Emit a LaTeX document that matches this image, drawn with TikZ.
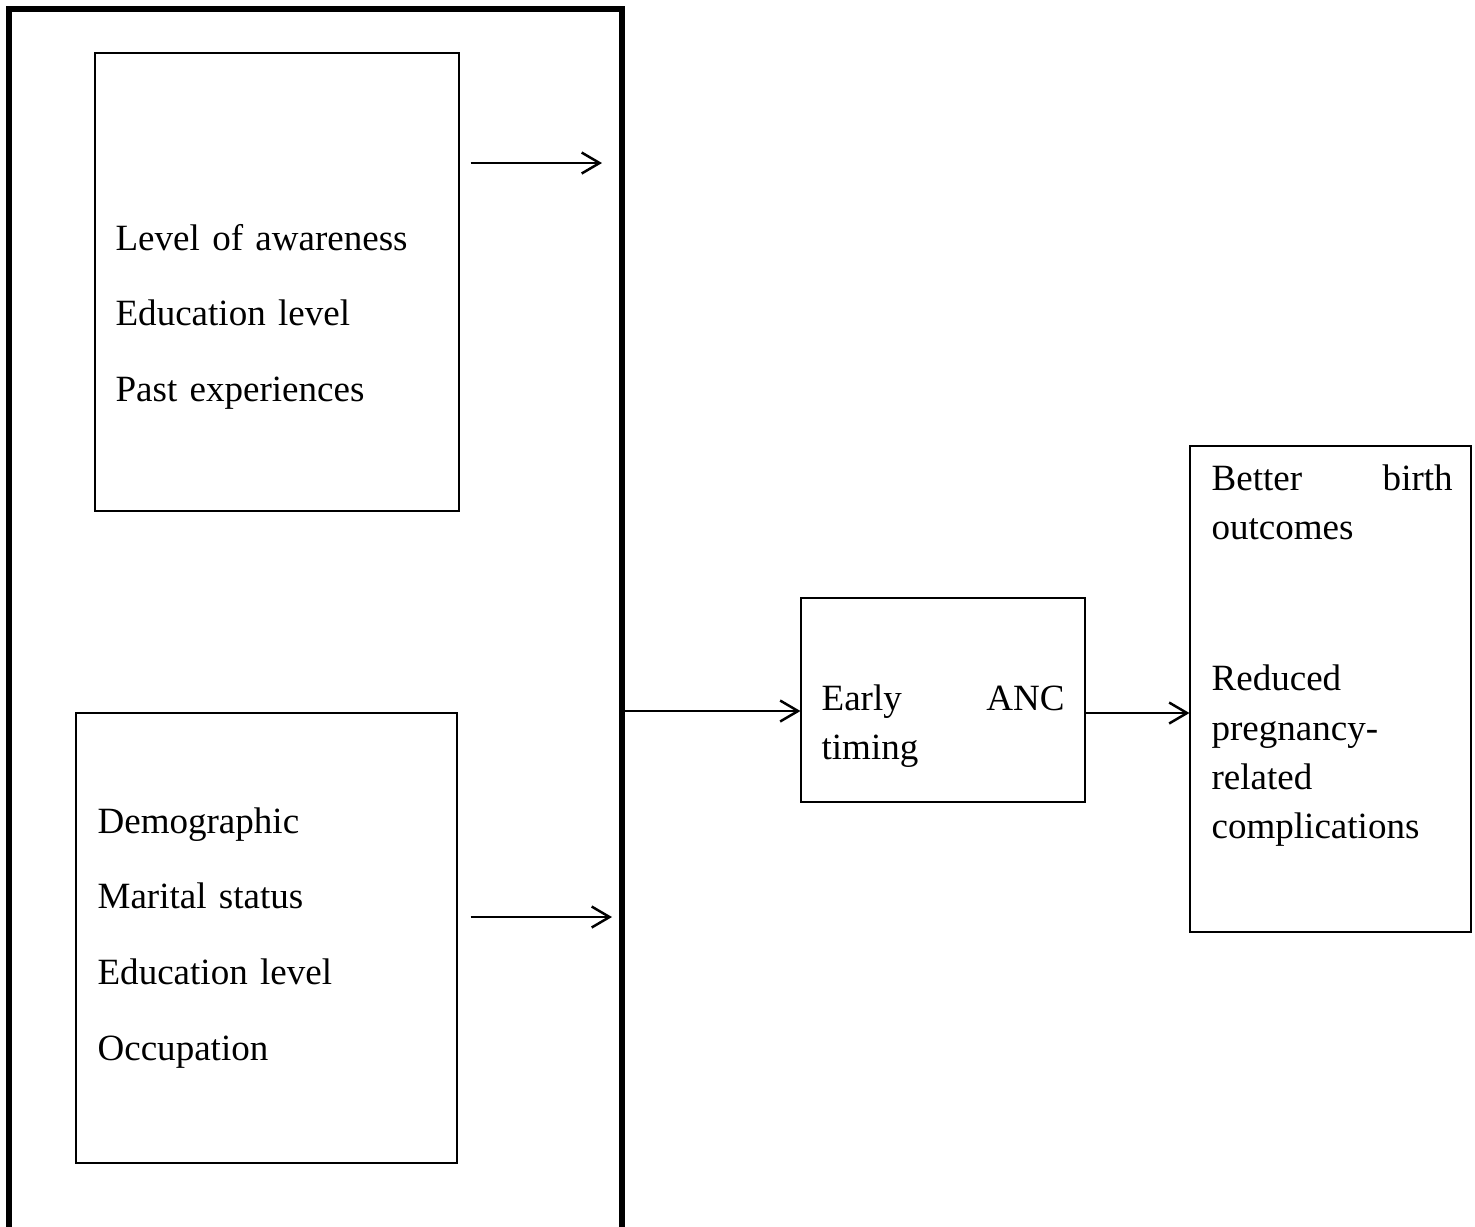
\documentclass[tikz,border=0pt]{standalone}
\usepackage{fontspec}
\setmainfont{Liberation Serif}
\usetikzlibrary{fit,arrows.meta}

\begin{document}
\begin{tikzpicture}[x=0.324pt,y=-0.324pt,
  box/.style={draw,line width=0.35pt,inner sep=0pt},
  outerbox/.style={draw,line width=1.7pt,inner sep=0pt},
  listtxt/.style={anchor=base west,inner sep=0pt,align=left,font=\fontsize{12pt}{24.6pt}\selectfont},
  boxtxt/.style={anchor=base west,inner sep=0pt,align=left,font=\fontsize{12pt}{16pt}\selectfont},
  arr/.style={-{Straight Barb[length=5.8pt,width=6.8pt]},line width=0.8pt}]
  \path[use as bounding box,clip] (0,0) rectangle (1475,1226);

  % frame round the two factor boxes (open at the bottom)
  \node[outerbox,fit={(9,9) (622,1260)}] (frame) {};

  \node[box,fit={(95,53) (459,511)}] (aware) {};
  \node[listtxt,text width=110pt] (awaretxt) at (115,250)
    {Level of awareness\\Education level\\Past experiences};

  \node[box,fit={(76,713) (457,1163)}] (demog) {};
  \node[listtxt,text width=110pt] (demogtxt) at (97,833)
    {Demographic\\Marital status\\Education level\\Occupation};

  \node[box,fit={(801,598) (1085,802)}] (anc) {};
  \node[boxtxt,text width=78.7pt] (anctxt) at (821,710)
    {Early \hfill ANC\\timing};

  \node[box,fit={(1190,446) (1471,932)}] (outcome) {};
  \node[boxtxt,text width=78.1pt] (outtxt) at (1211,490)
    {Better \hfill birth\\outcomes\\[33pt]Reduced\\pregnancy-\\related\\complications};

  \coordinate (awareend) at (602,163);
  \coordinate (demogend) at (612,917);

  \draw[arr] ([xshift=3.6pt]aware.east |- awareend) -- (awareend);
  \draw[arr] ([xshift=4.2pt]demog.east |- demogend) -- (demogend);
  \draw[arr] (frame.east |- 0,711) -- (anc.west |- 0,711);
  \draw[arr] (anc.east |- 0,713) -- (outcome.west |- 0,713);
\end{tikzpicture}
\end{document}
